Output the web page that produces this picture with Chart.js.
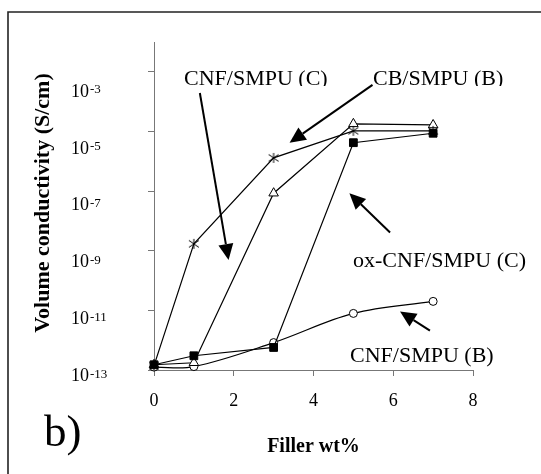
<!DOCTYPE html>
<html>
<head>
<meta charset="utf-8">
<script src="https://cdn.jsdelivr.net/npm/chart.js@4"></script>
<style>
  html, body { margin: 0; padding: 0; background: #fff; }
</style>
</head>
<body>
<canvas id="cond" width="541" height="474"></canvas>
<script>
// filler loading (wt%) and volume conductivity (S/cm) per composite
const fillerWt = [0, 1, 3, 5, 7];
const cbSmpuB = [1.4e-13, 1.7e-9, 1.3e-6, 1.05e-5, 1.05e-5];
const cnfSmpuC = [1.5e-13, 1.75e-13, 8.5e-8, 1.8e-5, 1.65e-5];
const oxCnfSmpuC = [1.5e-13, 3.0e-13, 5.7e-13, 4.2e-6, 8.7e-6];
const cnfSmpuB = [1.25e-13, 1.3e-13, 8.3e-13, 7.9e-12, 2.0e-11];

const yTickExps = [-13, -11, -9, -7, -5, -3];
const xTickStep = 2;

// callout labels and the arrows that point at their curves (arrow ends in wt% / log10 units)
const callouts = [
  { text: 'CNF/SMPU (C)', x: 184, y: 85, clipBottom: 86, from: [1.15, -3.71], to: [1.87, -9.31] },
  { text: 'CB/SMPU (B)', x: 373, y: 85, clipBottom: 86, from: [5.48, -3.44], to: [3.40, -5.38] },
  { text: 'ox-CNF/SMPU (C)', x: 353, y: 267, from: [5.92, -8.39], to: [4.90, -7.07] },
  { text: 'CNF/SMPU (B)', x: 350, y: 362, from: [6.92, -11.68], to: [6.17, -11.04] }
];

const SERIF = '"Liberation Serif", "Times New Roman", serif';

function asteriskMarker(r) {
  const c = document.createElement('canvas');
  const s = r * 2 + 2;
  c.width = s; c.height = s;
  const g = c.getContext('2d');
  const m = s / 2;
  g.strokeStyle = '#000';
  g.lineWidth = 1;
  g.beginPath();
  g.moveTo(m - r, m - r * 0.7); g.lineTo(m + r, m + r * 0.7);
  g.moveTo(m + r, m - r * 0.7); g.lineTo(m - r, m + r * 0.7);
  g.moveTo(m, m - r); g.lineTo(m, m + r);
  g.stroke();
  return c;
}

function points(values) {
  return fillerWt.map((x, i) => ({ x: x, y: values[i] }));
}

function drawArrow(ctx, x1, y1, x2, y2) {
  const ang = Math.atan2(y2 - y1, x2 - x1);
  const len = 16, half = 7.5;
  const bx = x2 - Math.cos(ang) * len, by = y2 - Math.sin(ang) * len;
  ctx.beginPath();
  ctx.moveTo(x1, y1);
  ctx.lineTo(bx, by);
  ctx.lineWidth = 2;
  ctx.strokeStyle = '#000';
  ctx.stroke();
  ctx.beginPath();
  ctx.moveTo(x2, y2);
  ctx.lineTo(bx + Math.sin(ang) * half, by - Math.cos(ang) * half);
  ctx.lineTo(bx - Math.sin(ang) * half, by + Math.cos(ang) * half);
  ctx.closePath();
  ctx.fillStyle = '#000';
  ctx.fill();
}

const figureDecor = {
  id: 'figureDecor',
  beforeDraw(chart) {
    const ctx = chart.ctx;
    ctx.save();
    ctx.fillStyle = '#fff';
    ctx.fillRect(0, 0, chart.width, chart.height);
    // panel frame (top and left edges)
    ctx.strokeStyle = '#222';
    ctx.lineWidth = 1.6;
    ctx.beginPath();
    ctx.moveTo(8, chart.height);
    ctx.lineTo(8, 12);
    ctx.lineTo(chart.width, 12);
    ctx.stroke();
    ctx.restore();
  },
  afterDraw(chart) {
    const ctx = chart.ctx;
    const xs = chart.scales.x, ys = chart.scales.y;
    ctx.save();
    ctx.fillStyle = '#000';

    // y tick labels as 10 with a raised exponent
    for (const e of yTickExps) {
      const base = ys.getPixelForValue(Math.pow(10, e)) + 11 + (e + 13) * 1.4;
      ctx.textAlign = 'left';
      ctx.textBaseline = 'alphabetic';
      ctx.font = '18px ' + SERIF;
      ctx.fillText('10', 71, base);
      const w = ctx.measureText('10').width;
      ctx.font = '13px ' + SERIF;
      ctx.fillText(String(e), 71 + w + 1, base - 3.5);
    }

    // x tick labels
    ctx.font = '18px ' + SERIF;
    ctx.textAlign = 'center';
    for (const t of xs.ticks) {
      ctx.fillText(String(t.value), xs.getPixelForValue(t.value), 406);
    }

    // axis titles
    ctx.font = 'bold 22px ' + SERIF;
    ctx.textAlign = 'center';
    ctx.textBaseline = 'middle';
    ctx.save();
    ctx.translate(43, 203);
    ctx.rotate(-Math.PI / 2);
    ctx.fillText('Volume conductivity (S/cm)', 0, 0);
    ctx.restore();

    ctx.font = 'bold 20px ' + SERIF;
    ctx.textBaseline = 'alphabetic';
    ctx.fillText('Filler wt%', (xs.left + xs.right) / 2, 452);

    ctx.font = '45px ' + SERIF;
    ctx.textAlign = 'left';
    ctx.fillText('b)', 44, 446);

    // callouts
    ctx.font = '22px ' + SERIF;
    for (const c of callouts) {
      ctx.save();
      if (c.clipBottom) {
        ctx.beginPath();
        ctx.rect(0, 0, chart.width, c.clipBottom);
        ctx.clip();
      }
      ctx.fillStyle = '#000';
      ctx.fillText(c.text, c.x, c.y);
      ctx.restore();
      drawArrow(ctx,
        xs.getPixelForValue(c.from[0]), ys.getPixelForValue(Math.pow(10, c.from[1])),
        xs.getPixelForValue(c.to[0]), ys.getPixelForValue(Math.pow(10, c.to[1])));
    }
    ctx.restore();
  }
};

const lineBase = {
  borderColor: '#000',
  borderWidth: 1.2,
  pointBorderColor: '#000',
  pointBorderWidth: 1,
  pointHoverRadius: 5,
  tension: 0,
  clip: false
};

// first dataset is painted last, so the filled squares sit on top
new Chart(document.getElementById('cond'), {
  type: 'line',
  data: {
    datasets: [
      Object.assign({}, lineBase, {
        label: 'ox-CNF/SMPU (C)', data: points(oxCnfSmpuC),
        pointStyle: 'rect', pointRadius: 5.5, pointBackgroundColor: '#000'
      }),
      Object.assign({}, lineBase, {
        label: 'CB/SMPU (B)', data: points(cbSmpuB),
        pointStyle: asteriskMarker(5), pointRadius: 5
      }),
      Object.assign({}, lineBase, {
        label: 'CNF/SMPU (C)', data: points(cnfSmpuC),
        pointStyle: 'triangle', pointRadius: 5.5, pointBackgroundColor: '#fff'
      }),
      Object.assign({}, lineBase, {
        label: 'CNF/SMPU (B)', data: points(cnfSmpuB), tension: 0.35,
        pointStyle: 'circle', pointRadius: 4, pointBackgroundColor: '#fff'
      })
    ]
  },
  options: {
    responsive: false,
    animation: false,
    layout: { padding: { left: 148, right: 68, top: 42, bottom: 98 } },
    plugins: {
      legend: { display: false },
      tooltip: { enabled: false }
    },
    scales: {
      x: {
        type: 'linear',
        min: 0,
        max: 8,
        ticks: { stepSize: xTickStep, display: false },
        grid: { drawOnChartArea: false, drawTicks: true, tickLength: 6, color: '#777' },
        border: { color: '#777', width: 1 },
        afterFit(s) { s.height = 6; }
      },
      y: {
        type: 'logarithmic',
        min: 1e-13,
        max: 1e-2,
        afterBuildTicks(s) {
          s.ticks = yTickExps.map(e => ({ value: Math.pow(10, e) }));
        },
        ticks: { display: false },
        grid: { drawOnChartArea: false, drawTicks: true, tickLength: 6, color: '#777' },
        border: { color: '#777', width: 1 },
        afterFit(s) { s.width = 6; }
      }
    }
  },
  plugins: [figureDecor]
});
</script>
</body>
</html>
